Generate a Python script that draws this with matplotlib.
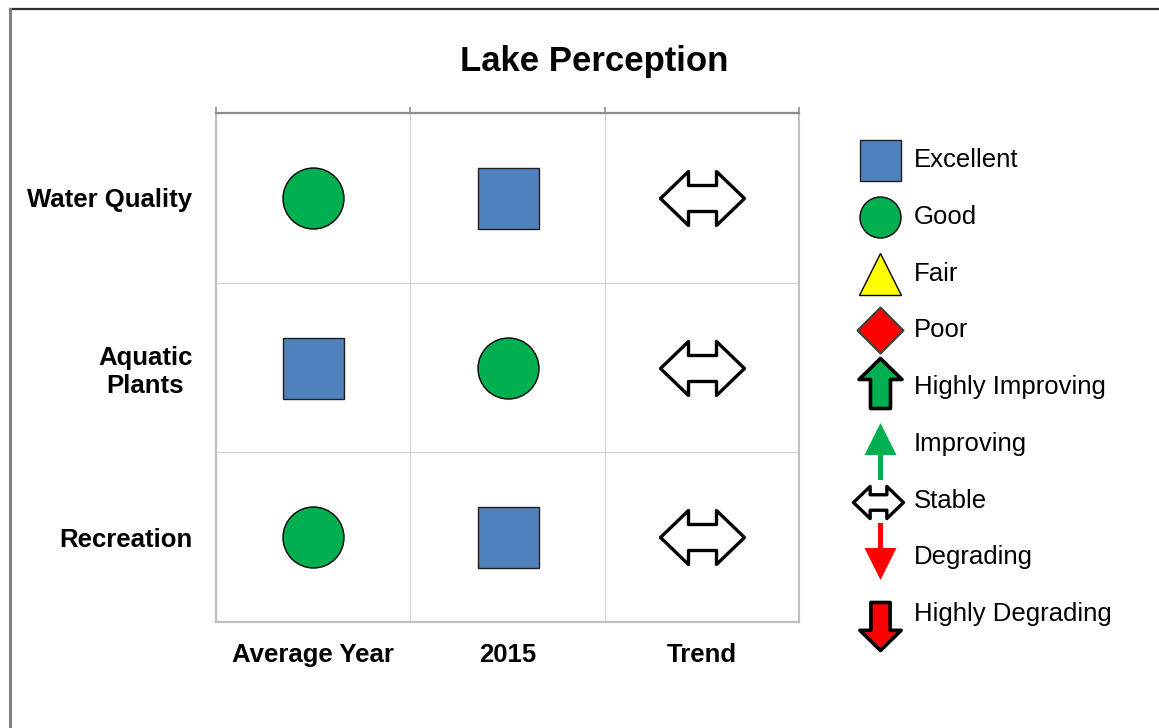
import matplotlib
matplotlib.use("Agg")
import matplotlib.pyplot as plt
from matplotlib.path import Path
from matplotlib.lines import Line2D

plt.rcParams["font.family"] = ["Liberation Sans", "DejaVu Sans"]

# veriler
satirlar = ["Water Quality", "Aquatic\nPlants", "Recreation"]
sutunlar = ["Average Year", "2015", "Trend"]
ortalama_yil = ["Good", "Excellent", "Good"]
yil_2015 = ["Excellent", "Good", "Excellent"]
egilim = ["Stable", "Stable", "Stable"]
lejant = ["Excellent", "Good", "Fair", "Poor", "Highly Improving",
          "Improving", "Stable", "Degrading", "Highly Degrading"]


def yol(noktalar):
    return Path(noktalar + [noktalar[0]], closed=True)


# ok sekilleri (piksel birimli, merkez 0,0)
cift_ok = yol([(-42, 0), (-14, 27), (-14, 13), (14, 13), (14, 27),
               (42, 0), (14, -27), (14, -13), (-14, -13), (-14, -27)])
kalin_yukari = yol([(0, 25), (21.5, 4), (10, 4), (10, -25), (-10, -25), (-10, 4), (-21.5, 4)])
kalin_asagi = yol([(0, -25), (21.5, -4), (10, -4), (10, 25), (-10, 25), (-10, -4), (-21.5, -4)])
ince_yukari = yol([(0, 28.5), (16, -3.5), (2.5, -3.5), (2.5, -28.5), (-2.5, -28.5), (-2.5, -3.5), (-16, -3.5)])
ince_asagi = yol([(0, -28.5), (16, 3.5), (2.5, 3.5), (2.5, 28.5), (-2.5, 28.5), (-2.5, 3.5), (-16, 3.5)])
elmas = yol([(0, 1), (1, 0), (0, -1), (-1, 0)])

PX = 0.72  # piksel -> punt

# her kategori icin stil: (marker, boyut_px_buyuk, boyut_px_lejant, dolgu, kenar, kenar_kalinligi, lejant_kayma_px)
stiller = {
    "Excellent": ("s", 61, 41, "#4f81bd", "#1f1f1f", 1.0, 0),
    "Good": ("o", 61, 41, "#00b050", "#000000", 1.0, 0),
    "Fair": ("^", 61, 42, "#ffff00", "#000000", 1.0, 0),
    "Poor": (elmas, 61, 46, "#ff0000", "#404040", 1.5, 0),
    "Highly Improving": (kalin_yukari, 61, 50, "#00b050", "#000000", 2.6, -4),
    "Improving": (ince_yukari, 61, 57, "#00b050", "none", 0, 7),
    "Stable": (cift_ok, 84, 50, "#ffffff", "#000000", 2.4, 1),
    "Degrading": (ince_asagi, 61, 57, "#ff0000", "none", 0, -6),
    "Highly Degrading": (kalin_asagi, 61, 48, "#ff0000", "#000000", 2.6, 12),
}

W, H = 1159, 728
fig = plt.figure(figsize=(W / 100, H / 100), dpi=100)

# cerceve
fig.add_artist(Line2D([10 / W, 1], [1 - 9 / H, 1 - 9 / H], color="#303030", lw=1.6))
fig.add_artist(Line2D([10 / W, 10 / W], [0, 1 - 9 / H], color="#808080", lw=2.2))

fig.text(594 / W, 1 - 62 / H, "Lake Perception", ha="center", va="center",
         fontsize=25, fontweight="bold")

ax = fig.add_axes([216 / W, 1 - 622 / H, (799 - 216) / W, (622 - 113) / H])
ax.set_xlim(0, 3)
ax.set_ylim(3, 0)

for j, degerler in enumerate([ortalama_yil, yil_2015, egilim]):
    for i, d in enumerate(degerler):
        m, boy, _, dolgu, kenar, kk, _ = stiller[d]
        ax.plot(j + 0.5, i + 0.5, marker=m, markersize=boy * PX, markerfacecolor=dolgu,
                markeredgecolor=kenar, markeredgewidth=kk, linestyle="none", zorder=3)

ax.set_xticks([0.5, 1.5, 2.5], sutunlar, fontsize=18.5, fontweight="bold")
ax.set_yticks([0.5, 1.5, 2.5], satirlar, fontsize=18.5, fontweight="bold")
for lab in ax.get_yticklabels():
    lab.set_multialignment("center")
    lab.set_linespacing(1.2)
ax.tick_params(which="major", length=0)
ax.tick_params(axis="x", which="major", pad=15)
ax.tick_params(axis="y", which="major", pad=17)
ax.set_xticks([0, 1, 2, 3], minor=True)
ax.set_yticks([0, 1, 2, 3], minor=True)
ax.tick_params(axis="x", which="minor", bottom=False, top=True, direction="out",
               length=4.5, width=1.2, color="#8c8c8c")
ax.tick_params(axis="y", which="minor", left=False, length=0)
ax.grid(which="minor", color="#d4d4d4", lw=0.9)
for k in ["left", "bottom", "right"]:
    ax.spines[k].set_color("#c0c0c0")
    ax.spines[k].set_linewidth(1.6)
ax.spines["top"].set_color("#8c8c8c")
ax.spines["top"].set_linewidth(1.6)

# lejant
n = len(lejant)
adim = 56.75
lax = fig.add_axes([840 / W, 1 - (612 + adim / 2 + 2) / H, (W - 840) / W, n * adim / H])
lax.set_xlim(0, W - 840)
lax.set_ylim((n - 0.5) * adim, -0.5 * adim)
lax.axis("off")
for i, ad in enumerate(lejant):
    m, _, boy, dolgu, kenar, kk, kayma = stiller[ad]
    x = 38 if ad == "Stable" else 40
    lax.plot(x, i * adim + kayma, marker=m, markersize=boy * PX, markerfacecolor=dolgu,
             markeredgecolor=kenar, markeredgewidth=kk, linestyle="none", clip_on=False)
    lax.text(74, i * adim, ad, va="center", ha="left", fontsize=18.5)

fig.savefig("out.png", dpi=100)
